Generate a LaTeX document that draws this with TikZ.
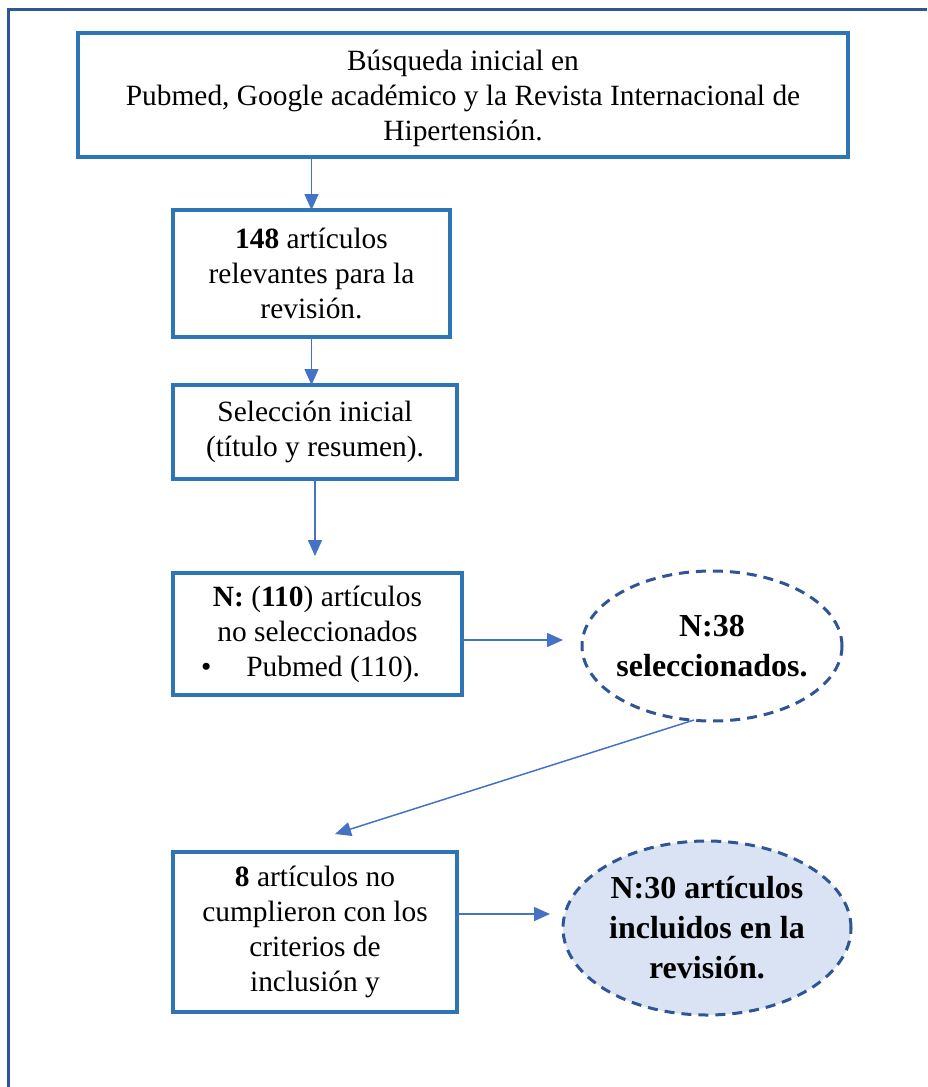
\documentclass[tikz,border=0pt]{standalone}
\usepackage{fontspec}
\setmainfont{Liberation Serif}
\usepackage{xcolor}
\usetikzlibrary{arrows.meta, positioning, shapes.geometric, calc}

\definecolor{boxblue}{HTML}{2E75B6}
\definecolor{frameblue}{HTML}{2F5597}
\definecolor{arrowblue}{HTML}{4472C4}
\definecolor{pale}{HTML}{DAE3F3}

\begin{document}
\begin{tikzpicture}[
  box/.style={draw=boxblue, line width=2pt, align=center, inner sep=0pt, outer sep=0pt,
    font=\fontsize{14.7}{17.5}\selectfont},
  oval/.style={ellipse, draw=frameblue, line width=1.5pt, dash pattern=on 5pt off 3.5pt,
    align=center, inner sep=-3pt, outer sep=0pt, font=\fontsize{16}{20}\selectfont\bfseries},
  arr/.style={draw=arrowblue, line width=0.75pt, -{Triangle[length=8pt, width=7pt]}}
]
  \useasboundingbox (0,0) rectangle (463.5pt,-543.5pt);
  % outer frame
  \draw[frameblue, line width=1.5pt] (4.25pt,-543.5pt) -- (4.25pt,-4.75pt) -- (463.5pt,-4.75pt);

  \node[box, minimum width=385pt, minimum height=62pt] (b1) at (231.5pt,-47.5pt)
    {\\[-4pt]Búsqueda inicial en\\Pubmed, Google académico y la Revista Internacional de\\Hipertensión.};
  \node[box, minimum width=138.5pt, minimum height=63.5pt, below=26.5pt of b1.south west,
    anchor=north west, xshift=47.5pt] (b2)
    {\textbf{148} artículos\\relevantes para la\\revisión.};
  \node[box, minimum width=142pt, minimum height=47pt, below=24pt of b2.south west,
    anchor=north west] (b3)
    {Selección inicial\\(título y resumen).};
  \node[box, minimum width=144.5pt, minimum height=61pt, below=47pt of b3.south west,
    anchor=north west] (b4)
    {\textbf{N:} (\textbf{110}) artículos\\no seleccionados\\\textbullet\hspace{17.5pt}Pubmed (110).\hspace*{7pt}};
  \node[oval, minimum width=130pt, minimum height=75pt, right=60pt of b4, yshift=-6pt] (e1)
    {N:38\\seleccionados.};
  \node[box, minimum width=142pt, minimum height=80pt, below=78.5pt of b4.south west,
    anchor=north west] (b5)
    {\textbf{8} artículos no\\cumplieron con los\\criterios de\\inclusión y};
  \node[oval, fill=pale, minimum width=144pt, minimum height=87pt, right=53pt of b5,
    yshift=2pt] (e2)
    {N:30 artículos\\incluidos en la\\revisión.};

  \draw[arr] (b2.north |- b1.south) -- (b2.north);
  \draw[arr] (b2.south) -- (b2.south |- b3.north);
  \draw[arr] (b3.south) -- ($(b3.south |- b4.north)+(0,8.5pt)$);
  \draw[arr] ($(b4.east)+(0,-3pt)$) -- ($(b4.east -| e1.west)+(-9.5pt,-3pt)$);
  \draw[arr] ($(e1.south)+(-9pt,0.5pt)$) -- ($(b5.north)+(10pt,9pt)$);
  \draw[arr] ($(b5.east)+(0,9pt)$) -- ($(b5.east -| e2.west)+(-6.5pt,9pt)$);
\end{tikzpicture}
\end{document}
